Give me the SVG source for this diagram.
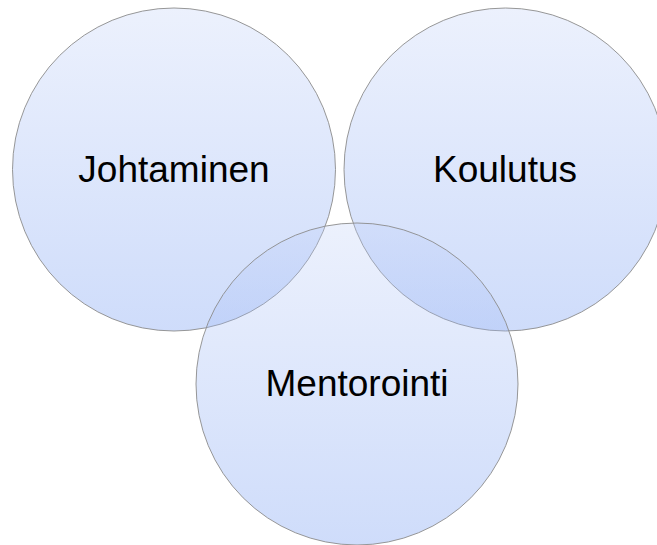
<svg xmlns="http://www.w3.org/2000/svg" width="657" height="545" viewBox="0 0 657 545">
  <defs>
    <linearGradient id="g" x1="0" y1="0" x2="0" y2="1">
      <stop offset="0" stop-color="rgb(192,208,248)"/>
      <stop offset="1" stop-color="rgb(95,140,240)"/>
    </linearGradient>
    <style>
      .c { fill: url(#g); fill-opacity: 0.3; stroke: #8c8c8c; stroke-width: 1; stroke-opacity: 0.9; }
      .t { font-family: "Liberation Sans", Arial, sans-serif; font-size: 37px; fill: #000; text-anchor: middle; }
    </style>
  </defs>
  <rect width="657" height="545" fill="#fff"/>
  <g id="johtaminen">
    <circle class="c" cx="174" cy="169.5" r="161.5"/>
    <text class="t" x="174" y="181.7">Johtaminen</text>
  </g>
  <g id="koulutus">
    <circle class="c" cx="505.5" cy="169.5" r="161.5"/>
    <text class="t" x="505" y="181.7">Koulutus</text>
  </g>
  <g id="mentorointi">
    <circle class="c" cx="357" cy="384" r="161"/>
    <text class="t" x="357" y="395.7">Mentorointi</text>
  </g>
  <g id="connectors"/>
</svg>
